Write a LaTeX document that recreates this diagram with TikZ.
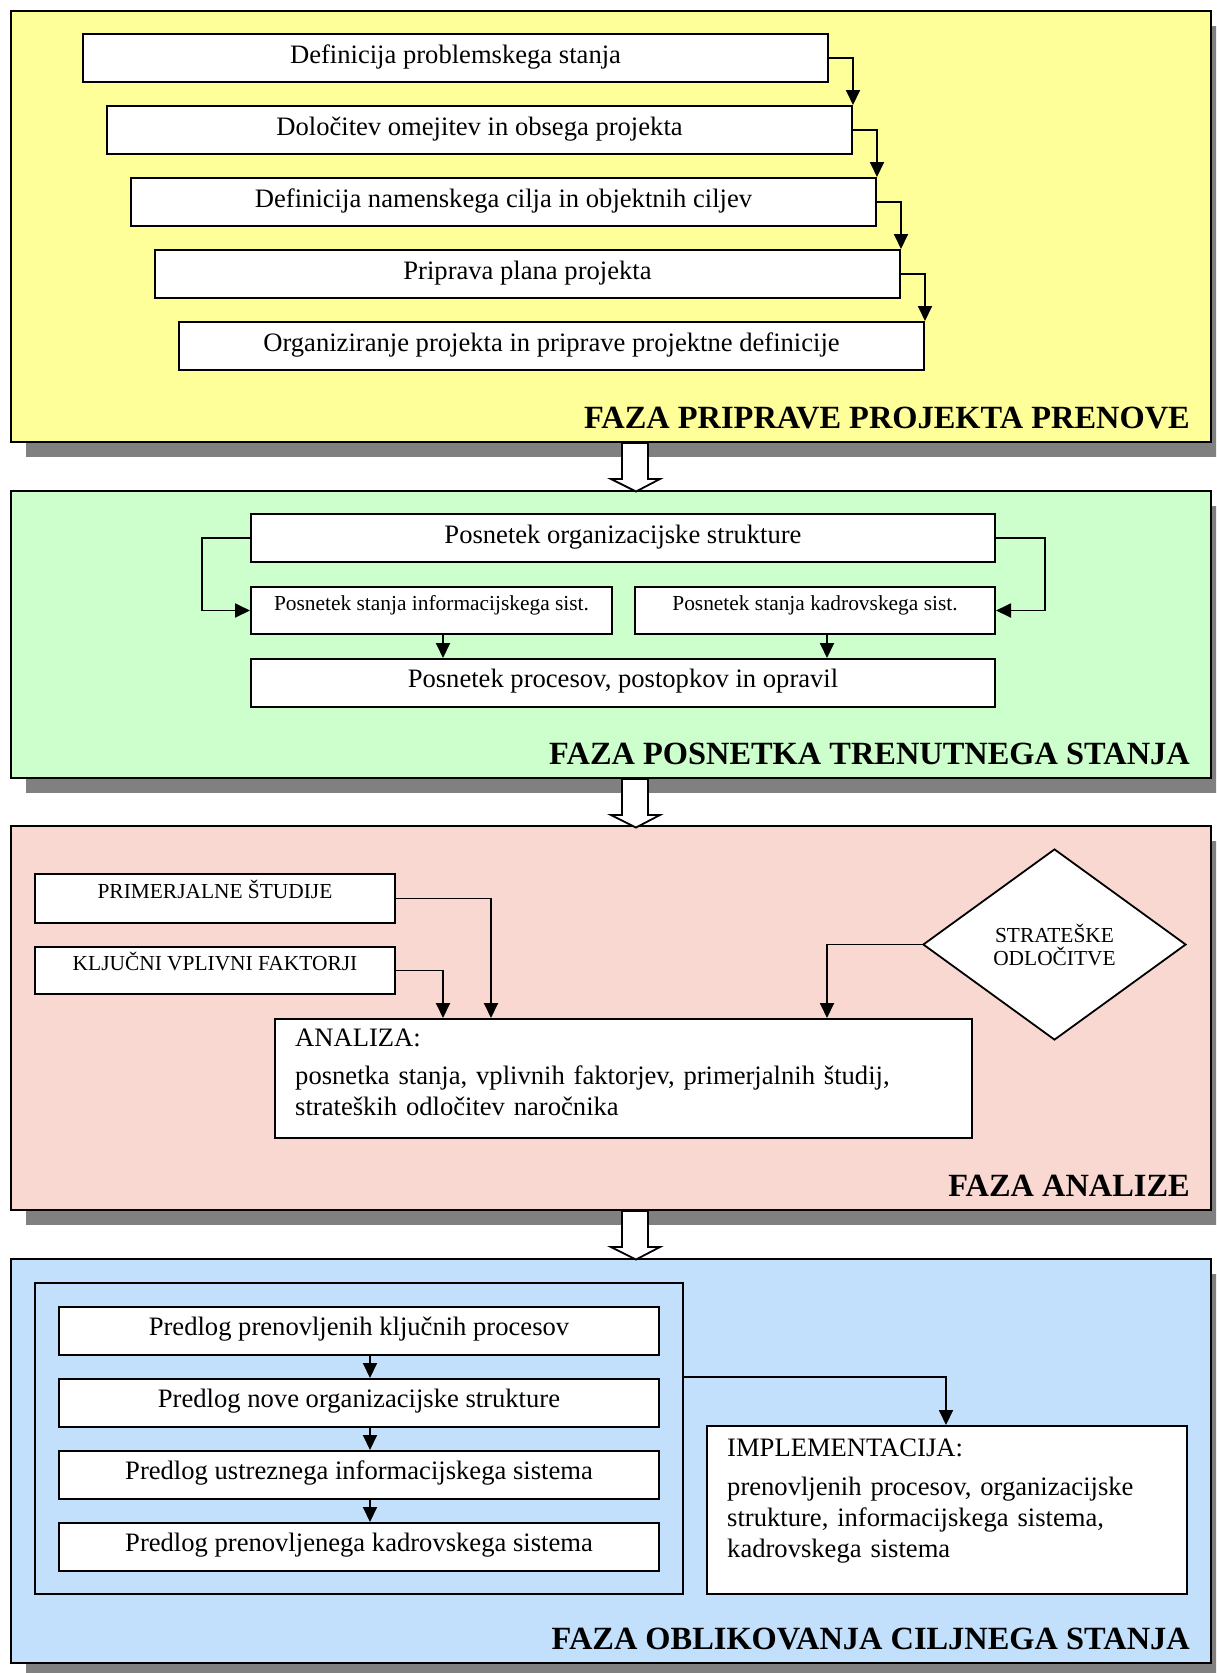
\documentclass[tikz,border=0pt]{standalone}
\usepackage{fontspec}
\setmainfont{Liberation Serif}
\usetikzlibrary{arrows.meta,shapes.geometric}

\definecolor{phaseA}{HTML}{FFFF99}
\definecolor{phaseB}{HTML}{CCFFCC}
\definecolor{phaseC}{HTML}{FAD8D2}
\definecolor{phaseD}{HTML}{C2E0FC}
\definecolor{shade}{HTML}{808080}

\newcommand{\bigtext}{\fontsize{26.6}{31}\selectfont}
\newcommand{\smalltext}{\fontsize{21.4}{23}\selectfont}
\newcommand{\titletext}{\fontsize{32.4}{36}\selectfont\bfseries}

\tikzset{
  panel/.style={draw, line width=2pt, anchor=north west, inner sep=0pt},
  shadowbox/.style={fill=shade},
  box/.style={draw, fill=white, line width=2pt, anchor=north west, inner sep=0pt},
  bigbox/.style={box, font=\bigtext, text height=28pt, text depth=20pt},
  topbox/.style={box, font=\bigtext, text height=29pt, text depth=19pt},
  smallbox/.style={box, font=\smalltext, text height=23pt, text depth=24pt},
  frame/.style={draw, line width=2pt, anchor=north west, inner sep=0pt},
  conn/.style={line width=1.9pt, -{Triangle[length=15pt,width=14pt]}},
  hollow/.style={draw, fill=white, line width=1.8pt, line join=miter},
  title/.style={anchor=base east, font=\titletext, inner sep=0pt},
  bodytext/.style={anchor=base west, font=\bigtext, inner sep=0pt, text width=680pt, align=left}
}

\begin{document}
\begin{tikzpicture}[x=1pt, y=-1pt]
\useasboundingbox (0,0) rectangle (1216,1673);
\clip (0,0) rectangle (1216,1673);

% ---- panel shadows ----
\fill[shadowbox] (26,26) rectangle (1226,457);
\fill[shadowbox] (26,506) rectangle (1226,793);
\fill[shadowbox] (26,841) rectangle (1226,1225);
\fill[shadowbox] (26,1274) rectangle (1226,1678);

% ---- panels ----
\node[panel, fill=phaseA, minimum width=1200, minimum height=431] (p1) at (10,10) {};
\node[panel, fill=phaseB, minimum width=1200, minimum height=287] (p2) at (10,490) {};
\node[panel, fill=phaseC, minimum width=1200, minimum height=384] (p3) at (10,825) {};
\node[panel, fill=phaseD, minimum width=1200, minimum height=404] (p4) at (10,1258) {};

% ---- hollow arrows between the phases ----
\foreach \p in {p1,p2,p3}{
  \draw[hollow, shift={(\p.south)}] (11,0) -- (11,36) -- (0,36) -- (25,48.5) -- (49,36) -- (37,36) -- (37,0) -- cycle;
}

% ---- phase 1 ----
\node[topbox, minimum width=745, minimum height=48] (y1) at (82,33) {Definicija problemskega stanja};
\node[topbox, minimum width=745, minimum height=48] (y2) at (106,105) {Določitev omejitev in obsega projekta};
\node[topbox, minimum width=745, minimum height=48] (y3) at (130,177) {Definicija namenskega cilja in objektnih ciljev};
\node[topbox, minimum width=745, minimum height=48] (y4) at (154,249) {Priprava plana projekta};
\node[topbox, minimum width=745, minimum height=48] (y5) at (178,321) {Organiziranje projekta in priprave projektne definicije};
\draw[conn] (y1.east) -| (y2.north east);
\draw[conn] (y2.east) -| (y3.north east);
\draw[conn] (y3.east) -| (y4.north east);
\draw[conn] (y4.east) -| (y5.north east);
\node[title] (t1) at (1190,428) {FAZA PRIPRAVE PROJEKTA PRENOVE};

% ---- phase 2 ----
\node[topbox, minimum width=744, minimum height=48] (g1) at (250,513) {Posnetek organizacijske strukture};
\node[smallbox, minimum width=361, minimum height=47] (g2) at (250,586) {Posnetek stanja informacijskega sist.};
\node[smallbox, minimum width=360, minimum height=47] (g3) at (634,586) {Posnetek stanja kadrovskega sist.};
\node[bigbox, minimum width=744, minimum height=47] (g4) at (250,658) {Posnetek procesov, postopkov in opravil};
\coordinate (gx1) at (443,0);
\coordinate (gx2) at (827,0);
\draw[conn] (g1.west) -- ++(-48,0) |- (g2.west);
\draw[conn] (g1.east) -- ++(49,0) |- (g3.east);
\draw[conn] (g2.south -| gx1) -- (g4.north -| gx1);
\draw[conn] (g3.south -| gx2) -- (g4.north -| gx2);
\node[title] (t2) at (1190,764) {FAZA POSNETKA TRENUTNEGA STANJA};

% ---- phase 3 ----
\node[smallbox, minimum width=360, minimum height=49] (r1) at (34,873) {PRIMERJALNE ŠTUDIJE};
\node[smallbox, minimum width=360, minimum height=47] (r2) at (34,946) {KLJUČNI VPLIVNI FAKTORJI};
\node[box, minimum width=697, minimum height=119] (ana) at (274,1018) {};
\node[bodytext] (anatext) at ([xshift=21pt,yshift=-28pt]ana.north west)
  {ANALIZA:\\[7pt]posnetka stanja, vplivnih faktorjev, primerjalnih študij,\\strateških odločitev naročnika};
\node[diamond, draw, fill=white, line width=1.8pt, inner sep=0pt, minimum width=263, minimum height=191,
      font=\smalltext, align=center] (dia) at (1054.5,944.5) {STRATEŠKE\\ODLOČITVE};
\coordinate (rx1) at (443,0);
\coordinate (rx2) at (491,0);
\coordinate (rx3) at (827,0);
\draw[conn] (r1.east) -| (rx2 |- ana.north);
\draw[conn] (r2.east) -| (rx1 |- ana.north);
\draw[conn] (dia.west) -| (rx3 |- ana.north);
\node[title] (t3) at (1190,1196) {FAZA ANALIZE};

% ---- phase 4 ----
\node[frame, minimum width=648, minimum height=311] (grp) at (34,1282) {};
\node[bigbox, minimum width=600, minimum height=47] (b1) at (58,1306) {Predlog prenovljenih ključnih procesov};
\node[bigbox, minimum width=600, minimum height=47] (b2) at (58,1378) {Predlog nove organizacijske strukture};
\node[bigbox, minimum width=600, minimum height=47] (b3) at (58,1450) {Predlog ustreznega informacijskega sistema};
\node[bigbox, minimum width=600, minimum height=47] (b4) at (58,1522) {Predlog prenovljenega kadrovskega sistema};
\coordinate (bx) at (370,0);
\draw[conn] (b1.south -| bx) -- (b2.north -| bx);
\draw[conn] (b2.south -| bx) -- (b3.north -| bx);
\draw[conn] (b3.south -| bx) -- (b4.north -| bx);
\node[box, minimum width=480, minimum height=168] (impl) at (706,1425) {};
\node[bodytext] (impltext) at ([xshift=21pt,yshift=-31pt]impl.north west)
  {IMPLEMENTACIJA:\\[8pt]prenovljenih procesov, organizacijske\\strukture, informacijskega sistema,\\kadrovskega sistema};
\coordinate (by) at (0,1377);
\coordinate (ix) at (946,0);
\draw[conn] (grp.east |- by) -| (ix |- impl.north);
\node[title] (t4) at (1190,1649) {FAZA OBLIKOVANJA CILJNEGA STANJA};
\end{tikzpicture}
\end{document}
